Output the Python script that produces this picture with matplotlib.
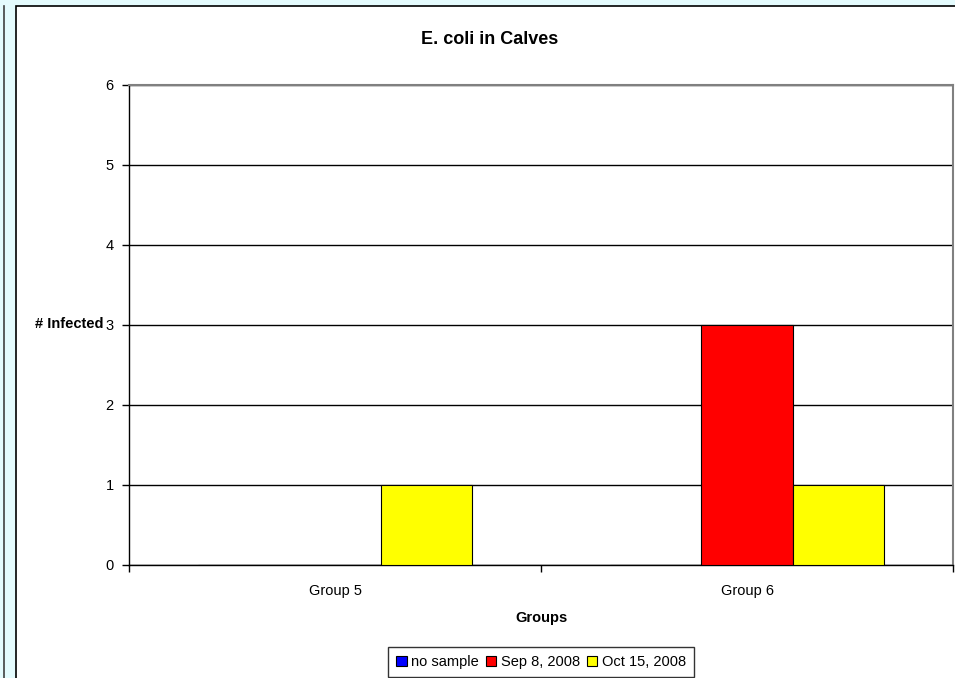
import numpy as np
import matplotlib
matplotlib.use("Agg")
import matplotlib.pyplot as plt
from matplotlib.patches import Rectangle, Patch
from matplotlib.lines import Line2D

plt.rcParams['font.family'] = ['Liberation Sans', 'DejaVu Sans']

groups = ["Group 5", "Group 6"]
series = ["no sample", "Sep 8, 2008", "Oct 15, 2008"]
no_sample = [0, 0]
sep_8 = [0, 3]
oct_15 = [1, 1]
colors = ["#0000FF", "#FF0000", "#FFFF00"]

fig = plt.figure(figsize=(9.55, 6.78), dpi=100)
fig.patch.set_facecolor("#E4FBFD")

# white chart area with a dark frame, and the left edge strip
fig.add_artist(Rectangle((16 / 955, -0.01), 1.0, 1 - 6 / 678 + 0.01, transform=fig.transFigure,
                         facecolor="white", edgecolor="black", linewidth=1.2, zorder=0))
fig.add_artist(Line2D([4 / 955, 4 / 955], [0, 1 - 6 / 678], transform=fig.transFigure,
                      color="#404040", linewidth=1.2, zorder=0))

ax = fig.add_axes([129 / 955, 1 - 565 / 678, 824 / 955, 480 / 678])
ax.set_facecolor("white")

x = np.arange(len(groups))
width = 1 / 4.5
values = [no_sample, sep_8, oct_15]
for i, vals in enumerate(values):
    ax.bar(x + (i - 1) * width, vals, width, color=colors[i], edgecolor="black",
           linewidth=0.8, zorder=3, label=series[i])

ax.set_xlim(-0.5, 1.5)
ax.set_ylim(0, 6)
ax.set_yticks(range(0, 7))
ax.yaxis.grid(True, color="black", linewidth=1)
ax.set_axisbelow(True)

ax.set_xticks(x)
ax.set_xticklabels(groups, fontsize=10.5)
ax.tick_params(axis="x", length=0, pad=14)
ax.set_xticks([-0.5, 0.5, 1.5], minor=True)
ax.tick_params(axis="x", which="minor", length=5, direction="out", width=1)
ax.tick_params(axis="y", length=5, width=1, labelsize=10.5, pad=6)

for side in ["top", "right"]:
    ax.spines[side].set_color("#808080")
    ax.spines[side].set_linewidth(1.5)
ax.spines["left"].set_linewidth(1)
ax.spines["bottom"].set_linewidth(1)

fig.text(490 / 955, 1 - 40 / 678, "E. coli in Calves", ha="center", va="center",
         fontsize=13, fontweight="bold")
fig.text(69 / 955, 1 - 324 / 678, "# Infected", ha="center", va="center",
         fontsize=10.5, fontweight="bold")
fig.text(541 / 955, 1 - 618 / 678, "Groups", ha="center", va="center",
         fontsize=10.5, fontweight="bold")

handles = [Patch(facecolor=c, edgecolor="black", linewidth=0.8) for c in colors]
leg = fig.legend(handles, series, loc="center", bbox_to_anchor=(541 / 955, 1 - 662 / 678),
                 ncol=3, fontsize=10.5, frameon=True, fancybox=False, handlelength=0.7,
                 handleheight=0.7, handletextpad=0.3, columnspacing=0.5, borderpad=0.55)
leg.get_frame().set_edgecolor("black")
leg.get_frame().set_linewidth(1)

fig.savefig("out.png", dpi=100, facecolor=fig.get_facecolor())
